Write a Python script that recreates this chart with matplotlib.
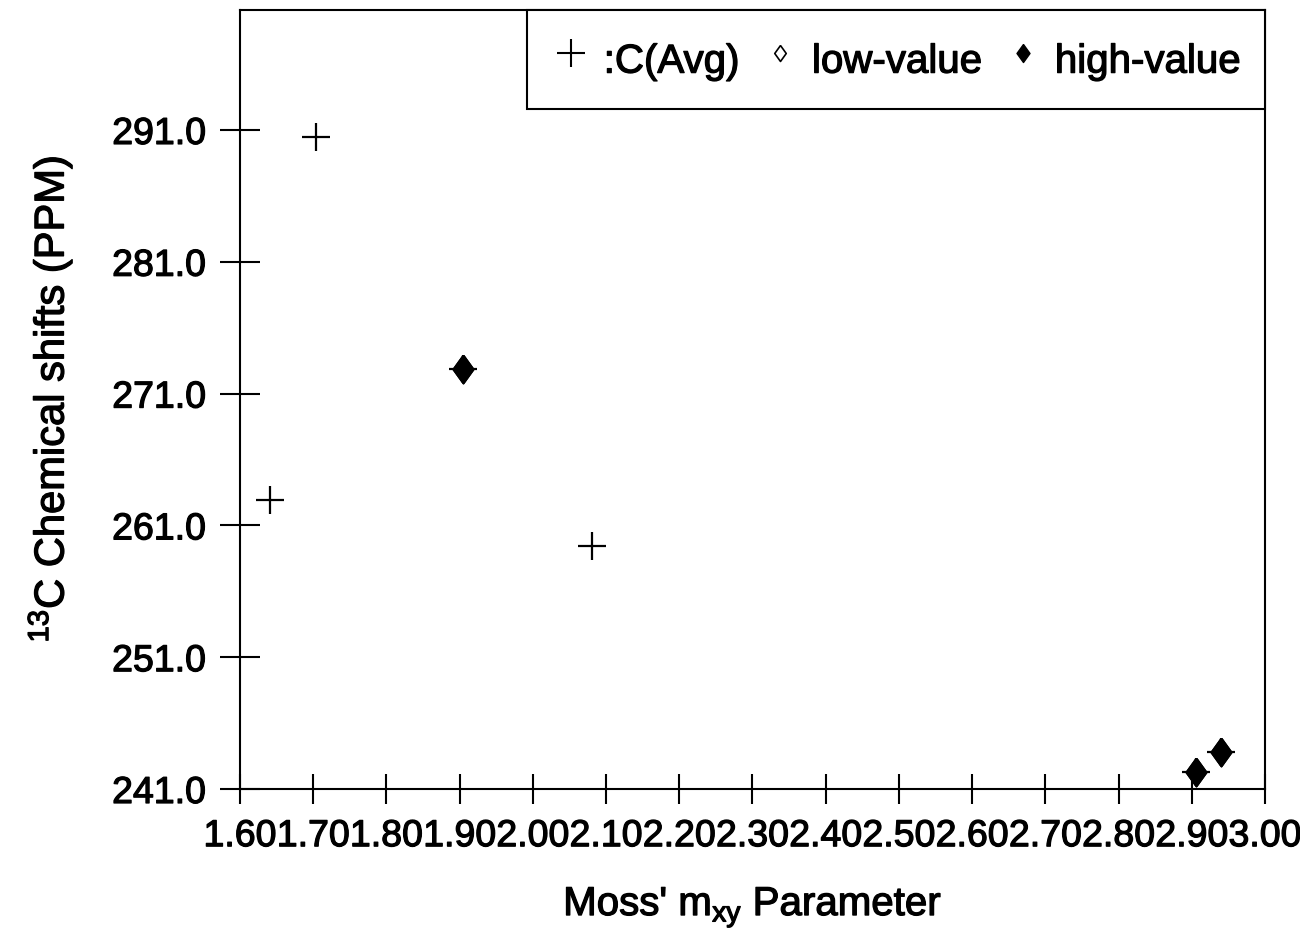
import numpy as np
import matplotlib
matplotlib.use('Agg')
import matplotlib.pyplot as plt
import matplotlib.patheffects as pe
from matplotlib.lines import Line2D

plt.rcParams['font.family'] = 'Liberation Sans'
plt.rcParams['mathtext.fontset'] = 'custom'
plt.rcParams['mathtext.rm'] = 'Liberation Sans'
plt.rcParams['mathtext.it'] = 'Liberation Sans'

# Moss' m_xy parameter and 13C shifts (ppm)
mxy_avg = [1.704, 1.641, 2.081, 1.905, 2.906, 2.940]
shift_avg = [290.5, 262.9, 259.4, 272.9, 242.3, 243.8]

mxy_low = [1.905, 2.906, 2.940]
shift_low = [272.9, 242.3, 243.8]

mxy_high = [1.905, 2.906, 2.940]
shift_high = [272.9, 242.3, 243.8]

xticks = np.arange(1.60, 3.001, 0.10)
yticks = [241.0, 251.0, 261.0, 271.0, 281.0, 291.0]

# narrow diamond, a bit wider than matplotlib's 'd'
diamond = [(0, 1), (0.72, 0), (0, -1), (-0.72, 0), (0, 1)]

bold = [pe.withStroke(linewidth=0.9, foreground='black')]

fig = plt.figure(figsize=(13, 9.34), dpi=100)
ax = fig.add_axes([240/1300, 1-789/934, 1025/1300, 779/934])

ax.plot(mxy_low, shift_low, linestyle='none', marker=diamond, markersize=20,
        markerfacecolor='white', markeredgecolor='black', markeredgewidth=1.5)
ax.plot(mxy_high, shift_high, linestyle='none', marker=diamond, markersize=20,
        markerfacecolor='black', markeredgecolor='black', markeredgewidth=1.5)
ax.plot(mxy_avg, shift_avg, linestyle='none', marker='+', markersize=20,
        markeredgewidth=1.6, color='black')

ax.set_xlim(1.60, 3.00)
ax.set_ylim(241.0, 300.1)
ax.set_xticks(xticks)
ax.set_xticklabels(['%.2f' % v for v in xticks])
ax.set_yticks(yticks)
ax.set_yticklabels(['%.1f' % v for v in yticks])

ax.tick_params(axis='x', direction='inout', length=22, width=1.5, labelsize=27, pad=10)
ax.tick_params(axis='y', direction='inout', length=29, width=1.5, labelsize=27, pad=10)
for s in ax.spines.values():
    s.set_linewidth(1.5)

ax.set_xlabel("Moss' m$_{\\mathrm{xy}}$ Parameter", fontsize=29, labelpad=22)
ax.set_ylabel("$^{\\mathrm{13}}$C Chemical shifts (PPM)", fontsize=30, labelpad=27)

handles = [
    Line2D([], [], linestyle='none', marker='+', markersize=20, markeredgewidth=1.5, color='black'),
    Line2D([], [], linestyle='none', marker=diamond, markersize=11.5, markerfacecolor='white',
           markeredgecolor='black', markeredgewidth=1.2),
    Line2D([], [], linestyle='none', marker=diamond, markersize=13, color='black'),
]
leg = ax.legend(handles, [':C(Avg)', 'low-value', 'high-value'], loc='upper right', ncol=3,
                fontsize=29, frameon=True, fancybox=False, framealpha=1, edgecolor='black',
                borderaxespad=0, borderpad=0.6, handlelength=1.0, handleheight=1.55,
                handletextpad=0.3, columnspacing=0.5)
leg.get_frame().set_linewidth(1.5)

texts = ax.get_xticklabels() + ax.get_yticklabels() + leg.get_texts()
texts += [ax.xaxis.label, ax.yaxis.label]
for t in texts:
    t.set_path_effects(bold)

fig.savefig('out.png', dpi=100)
